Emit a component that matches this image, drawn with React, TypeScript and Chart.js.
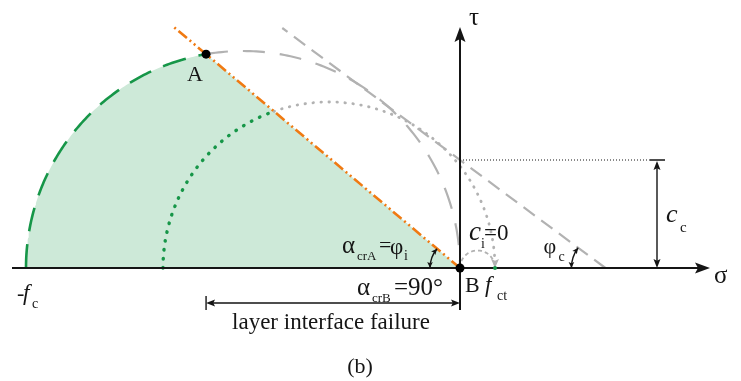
import React, { useEffect, useRef } from "react";
import { Chart, registerables } from "chart.js";
Chart.register(...registerables);

// ---- Diagram values (σ, τ in diagram units) ----
const compressionCircle = [-43.4, 0]; // -f_c … B (large Mohr circle)
const interfaceCircle = [-29.7, 3.5]; // dotted Mohr circle, right end at f_ct
const tensionCircle = [0, 3.5]; // small circle 0 … f_ct
const concreteEnvelope = [10.8, 36.6]; // c_c, φ_c [deg]
const interfaceEnvelope = [0, 40.1]; // c_i, φ_i [deg]
const envelopeExtent = [37.7, 24.0]; // interface line length from B, top τ of concrete line
const axisRange = [-44.8, 25.0, -4.2, 24.1]; // σ from/to, τ from/to
const dimensionRefs = [-3.5, 19.7, 20.5]; // τ of failure dimension, σ of c_c dimension, end of c_c guide
const viewX = [-46, 28.1];
const viewY = [-11.3, 26.8];

const rad = (d: number) => (d * Math.PI) / 180;
function arcPts(cx: number, r: number, a0: number, a1: number, n = 120) {
  const pts: { x: number; y: number }[] = [];
  for (let i = 0; i <= n; i++) {
    const a = rad(a0 + ((a1 - a0) * i) / n);
    pts.push({ x: cx + r * Math.cos(a), y: r * Math.sin(a) });
  }
  return pts;
}

// derived geometry
const cBig = (compressionCircle[0] + compressionCircle[1]) / 2;
const rBig = (compressionCircle[1] - compressionCircle[0]) / 2;
const phiI = interfaceEnvelope[1];
const angA = 180 - 2 * phiI;
const A = { x: cBig + rBig * Math.cos(rad(angA)), y: rBig * Math.sin(rad(angA)) };
const cD = (interfaceCircle[0] + interfaceCircle[1]) / 2;
const rD = (interfaceCircle[1] - interfaceCircle[0]) / 2;
const ci = Math.cos(rad(phiI));
const si = Math.sin(rad(phiI));
const tI = -ci * cD + Math.sqrt(ci * ci * cD * cD - cD * cD + rD * rD);
const angI = (Math.atan2(tI * si, -tI * ci - cD) * 180) / Math.PI;
const cT = (tensionCircle[0] + tensionCircle[1]) / 2;
const rT = (tensionCircle[1] - tensionCircle[0]) / 2;
const [cc, phiC] = concreteEnvelope;
const sigma0 = cc / Math.tan(rad(phiC));
const concTop = { x: (cc - envelopeExtent[1]) / Math.tan(rad(phiC)), y: envelopeExtent[1] };
const ifaceEnd = { x: -envelopeExtent[0] * ci, y: envelopeExtent[0] * si };

const GREEN = "rgb(22,150,72)";
const FILL = "rgb(205,233,216)";
const GRAY = "rgb(178,178,178)";
const ORANGE = "rgb(240,122,18)";
const INK = "#151515";
const FONT = '"Liberation Serif", "Times New Roman", serif';

function arrowHead(ctx: CanvasRenderingContext2D, x: number, y: number, ang: number, len: number, hw: number, color: string) {
  ctx.save();
  ctx.translate(x, y);
  ctx.rotate(ang);
  ctx.beginPath();
  ctx.moveTo(0, 0);
  ctx.lineTo(-len, -hw);
  ctx.lineTo(-len * 0.8, 0);
  ctx.lineTo(-len, hw);
  ctx.closePath();
  ctx.fillStyle = color;
  ctx.fill();
  ctx.restore();
}

function txt(ctx: CanvasRenderingContext2D, s: string, x: number, y: number, size: number, italic = false, align: CanvasTextAlign = "left") {
  ctx.font = `${italic ? "italic " : ""}${size}px ${FONT}`;
  ctx.textAlign = align;
  ctx.textBaseline = "alphabetic";
  ctx.fillStyle = INK;
  ctx.fillText(s, x, y);
}

const overlay = {
  id: "overlay",
  afterDatasetsDraw(chart: any) {
    const ctx: CanvasRenderingContext2D = chart.ctx;
    const xs = chart.scales.x;
    const ys = chart.scales.y;
    const P = (s: number, t: number) => [xs.getPixelForValue(s), ys.getPixelForValue(t)];
    ctx.save();
    ctx.setLineDash([]);
    ctx.strokeStyle = INK;
    ctx.lineCap = "butt";

    // σ axis
    const [ax0, ay] = P(axisRange[0], 0);
    const [ax1] = P(axisRange[1], 0);
    ctx.lineWidth = 2;
    ctx.beginPath();
    ctx.moveTo(ax0, ay);
    ctx.lineTo(ax1 - 10, ay);
    ctx.stroke();
    arrowHead(ctx, ax1, ay, 0, 15, 5.5, INK);
    // τ axis
    const [bx, by0] = P(0, axisRange[2]);
    const [, by1] = P(0, axisRange[3]);
    ctx.beginPath();
    ctx.moveTo(bx, by0);
    ctx.lineTo(bx, by1 + 10);
    ctx.stroke();
    arrowHead(ctx, bx, by1, -Math.PI / 2, 15, 5.5, INK);

    // c_c guide (dotted) and dimension
    const [, ccy] = P(0, cc);
    const [gx] = P(dimensionRefs[2], 0);
    ctx.lineWidth = 1;
    ctx.setLineDash([1, 2]);
    ctx.beginPath();
    ctx.moveTo(bx, ccy);
    ctx.lineTo(gx - 14, ccy);
    ctx.stroke();
    ctx.setLineDash([]);
    const [dx] = P(dimensionRefs[1], 0);
    ctx.lineWidth = 1.4;
    ctx.beginPath();
    ctx.moveTo(dx - 7, ccy);
    ctx.lineTo(dx + 8, ccy);
    ctx.moveTo(dx, ccy + 6);
    ctx.lineTo(dx, ay - 6);
    ctx.stroke();
    arrowHead(ctx, dx, ccy + 1, -Math.PI / 2, 9, 3.5, INK);
    arrowHead(ctx, dx, ay, Math.PI / 2, 9, 3.5, INK);

    // layer interface failure dimension
    const [lx, ly] = P(A.x, dimensionRefs[0]);
    ctx.lineWidth = 1.4;
    ctx.beginPath();
    ctx.moveTo(lx, ly - 7);
    ctx.lineTo(lx, ly + 7);
    ctx.moveTo(lx + 5, ly);
    ctx.lineTo(bx - 5, ly);
    ctx.stroke();
    arrowHead(ctx, lx, ly, Math.PI, 9, 3.5, INK);
    arrowHead(ctx, bx, ly, 0, 9, 3.5, INK);

    // angle arcs
    const angleArc = (cxp: number, cyp: number, r: number, phi: number) => {
      ctx.lineWidth = 1.4;
      ctx.beginPath();
      ctx.arc(cxp, cyp, r, rad(-180), rad(-180 + phi), false);
      ctx.stroke();
      arrowHead(ctx, cxp - r, cyp, Math.PI / 2, 6, 2.8, INK);
      const a = rad(-180 + phi);
      arrowHead(ctx, cxp + r * Math.cos(a), cyp + r * Math.sin(a), a + Math.PI / 2, 6, 2.8, INK);
    };
    angleArc(bx, ay, 30, phiI);
    const [s0x] = P(sigma0, 0);
    angleArc(s0x, ay, 34, phiC);

    // arrow at f_ct end of dotted circle
    const [fx] = P(interfaceCircle[1], 0);
    arrowHead(ctx, fx, ay, Math.PI / 2, 9, 4, GRAY);
    ctx.fillStyle = GREEN;
    ctx.beginPath();
    ctx.arc(fx, ay, 2, 0, Math.PI * 2);
    ctx.fill();

    // points A and B
    const [pax, pay] = P(A.x, A.y);
    ctx.fillStyle = "#000";
    ctx.beginPath();
    ctx.arc(pax, pay, 4.5, 0, Math.PI * 2);
    ctx.fill();
    ctx.beginPath();
    ctx.arc(bx, ay, 4.5, 0, Math.PI * 2);
    ctx.fill();

    // labels
    txt(ctx, "A", pax - 19, pay + 27, 22);
    txt(ctx, "B", bx + 5, ay + 24, 22);
    txt(ctx, "f", fx - 10, ay + 24, 23, true);
    txt(ctx, "ct", fx + 2, ay + 32, 14);
    const [mfx] = P(compressionCircle[0], 0);
    txt(ctx, "-", mfx - 9, ay + 32, 22);
    txt(ctx, "f", mfx - 3, ay + 32, 23, true);
    txt(ctx, "c", mfx + 6, ay + 40, 14);
    txt(ctx, "σ", ax1 + 4, ay + 15, 25);
    txt(ctx, "τ", bx + 9, by1 - 2, 25);
    txt(ctx, "c", dx + 9, ccy + 62, 26, true);
    txt(ctx, "c", dx + 23, ccy + 72, 15);
    txt(ctx, "φ", s0x - 62, ay - 15, 22);
    txt(ctx, "c", s0x - 47, ay - 7, 14);
    txt(ctx, "c", bx + 9, ay - 28, 27, true);
    txt(ctx, "i", bx + 21, ay - 20, 14);
    txt(ctx, "=0", bx + 24, ay - 28, 23);
    txt(ctx, "α", bx - 118, ay - 15, 25);
    txt(ctx, "crA", bx - 103, ay - 8, 13);
    txt(ctx, "=", bx - 81, ay - 16, 22);
    txt(ctx, "φ", bx - 70, ay - 14, 23);
    txt(ctx, "i", bx - 56, ay - 8, 14);
    txt(ctx, "α", bx - 103, ay + 27, 25);
    txt(ctx, "crB", bx - 88, ay + 34, 13);
    txt(ctx, "=90°", bx - 66, ay + 27, 25);
    txt(ctx, "layer interface failure", bx - 129, ly + 26, 23, false, "center");
    txt(ctx, "(b)", bx - 100, ly + 70, 22, false, "center");
    ctx.restore();
  },
};

export default function App() {
  const ref = useRef<HTMLCanvasElement | null>(null);
  useEffect(() => {
    if (!ref.current) return;
    const line = (data: any[], color: string, width: number, dash: number[], order: number, cap: any = "butt") => ({
      type: "scatter",
      data,
      showLine: true,
      borderColor: color,
      borderWidth: width,
      borderDash: dash,
      borderCapStyle: cap,
      pointRadius: 0,
      fill: false,
      tension: 0,
      clip: false,
      order,
    });
    const fillData = [...arcPts(cBig, rBig, 180, angA), { x: 0, y: 0 }];
    const datasets: any[] = [
      line([{ x: 0, y: 0 }, ifaceEnd], ORANGE, 2.6, [11, 3.5, 2, 3.5, 2, 3.5], 1),
      line(arcPts(cBig, rBig, 180, angA), GREEN, 2.6, [24, 13], 2),
      line(arcPts(cBig, rBig, angA, 0), GRAY, 2.2, [22, 15], 3),
      line(arcPts(cD, rD, 180, angI), GREEN, 3.4, [0.5, 8.5], 2, "round"),
      line(arcPts(cD, rD, angI, 4), GRAY, 2.8, [0.5, 7.5], 4, "round"),
      line([{ x: sigma0, y: 0 }, concTop], GRAY, 2.2, [14, 8], 5),
      line(arcPts(cT, rT, 180, 0), GRAY, 1.8, [4, 3], 6),
      {
        type: "scatter",
        data: fillData,
        showLine: true,
        borderWidth: 0,
        borderColor: "rgba(0,0,0,0)",
        backgroundColor: FILL,
        pointRadius: 0,
        fill: "origin",
        clip: false,
        order: 100,
      },
    ];
    const chart = new Chart(ref.current, {
      type: "scatter",
      data: { datasets },
      options: {
        animation: false,
        responsive: false,
        devicePixelRatio: 1,
        layout: { padding: 0 },
        plugins: { legend: { display: false }, tooltip: { enabled: false } },
        scales: {
          x: { type: "linear", min: viewX[0], max: viewX[1], display: false },
          y: { type: "linear", min: viewY[0], max: viewY[1], display: false },
        },
      },
      plugins: [overlay],
    } as any);
    return () => chart.destroy();
  }, []);
  return (
    <div style={{ position: "absolute", left: 0, top: 0, width: 741, height: 381, background: "#fff" }}>
      <canvas ref={ref} width={741} height={381} style={{ display: "block" }} />
    </div>
  );
}
